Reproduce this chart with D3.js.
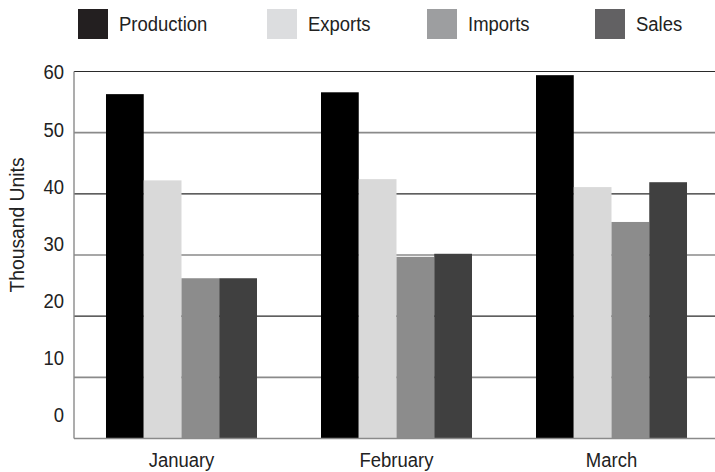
<!DOCTYPE html>
<html>
<head>
<meta charset="utf-8">
<script src="https://cdn.jsdelivr.net/npm/d3@7"></script>
<style>
  html, body { margin: 0; padding: 0; background: #fff; }
  svg { display: block; }
  text { font-family: "Liberation Sans Narrow", "Arial Narrow", "Liberation Sans", sans-serif; fill: #222; }
</style>
</head>
<body>
<svg id="chart" width="715" height="472"></svg>
<script>
// Monthly figures, thousand units
const months = ["January", "February", "March"];
const seriesNames = ["Production", "Exports", "Imports", "Sales"];
const production = [56.3, 56.6, 59.4];
const exportsVals = [42.2, 42.4, 41.1];
const importsVals = [26.2, 29.7, 35.4];
const salesVals = [26.2, 30.2, 41.9];
const yTicks = [0, 10, 20, 30, 40, 50, 60];

const seriesValues = [production, exportsVals, importsVals, salesVals];
const barColors = ["#000000", "#d9d9d9", "#8c8c8c", "#404040"];
const legendColors = ["#231f20", "#dcdddf", "#9d9ea0", "#626163"];

const svg = d3.select("#chart");

const plotLeft = 74, plotRight = 715, plotTop = 71.5, plotBottom = 438.5;
const narrow = 0.88; // horizontal squeeze for a condensed look

const x0 = d3.scaleBand().domain(months).range([74, 719])
  .paddingInner(0.2977).paddingOuter(0.1488);
const x1 = d3.scaleBand().domain(seriesNames).range([0, x0.bandwidth()]);
const y = d3.scaleLinear().domain([0, 60]).range([plotBottom, plotTop]);
// tick labels sit on their own evenly spaced column
const yLabel = d3.scaleLinear().domain([0, 60]).range([415, 72]);

// gridlines (alternating dark / grey)
svg.append("g").selectAll("line")
  .data(yTicks.filter(t => t > 0))
  .join("line")
  .attr("x1", plotLeft).attr("x2", plotRight)
  .attr("y1", d => y(d)).attr("y2", d => y(d))
  .attr("stroke", d => (d / 10) % 2 === 0 ? "#2a2a2a" : "#8a8a8a")
  .attr("stroke-width", d => (d / 10) % 2 === 0 ? 1.2 : 1.6);

// bars
const groups = svg.append("g").selectAll("g")
  .data(months)
  .join("g")
  .attr("transform", d => `translate(${x0(d)},0)`);

groups.selectAll("rect")
  .data((m, i) => seriesNames.map((s, k) => ({ s, k, v: seriesValues[k][i] })))
  .join("rect")
  .attr("x", d => x1(d.s))
  .attr("width", x1.bandwidth())
  .attr("y", d => y(d.v))
  .attr("height", d => y(0) - y(d.v))
  .attr("fill", d => barColors[d.k]);

// baseline and left axis line
svg.append("line")
  .attr("x1", plotLeft).attr("x2", plotRight)
  .attr("y1", y(0)).attr("y2", y(0))
  .attr("stroke", "#8a8a8a").attr("stroke-width", 1.6);
svg.append("line")
  .attr("x1", plotLeft).attr("x2", plotLeft)
  .attr("y1", y(60)).attr("y2", y(0))
  .attr("stroke", "#8a8a8a").attr("stroke-width", 1.4);

// y tick labels
svg.append("g").selectAll("text")
  .data(yTicks)
  .join("text")
  .attr("transform", d => `translate(64,${yLabel(d)}) scale(${narrow},1)`)
  .attr("dy", "0.35em")
  .attr("text-anchor", "end")
  .style("font-size", "21px")
  .text(d => d);

// y axis title
svg.append("text")
  .attr("transform", `translate(24,225) rotate(-90) scale(${narrow + 0.04},1)`)
  .attr("text-anchor", "middle")
  .style("font-size", "21px")
  .text("Thousand Units");

// x category labels
svg.append("g").selectAll("text")
  .data(months)
  .join("text")
  .attr("transform", d => `translate(${x0(d) + x0.bandwidth() / 2},467) scale(${narrow},1)`)
  .attr("text-anchor", "middle")
  .style("font-size", "21px")
  .text(d => d);

// legend
const legendX = [78, 267, 427, 595];
const legend = svg.append("g").selectAll("g")
  .data(seriesNames)
  .join("g")
  .attr("transform", (d, i) => `translate(${legendX[i]},9)`);
legend.append("rect")
  .attr("width", 30).attr("height", 30)
  .attr("fill", (d, i) => legendColors[i]);
legend.append("text")
  .attr("transform", `translate(41,15) scale(${narrow},1)`)
  .attr("dy", "0.35em")
  .style("font-size", "21px")
  .text(d => d);
</script>
</body>
</html>
